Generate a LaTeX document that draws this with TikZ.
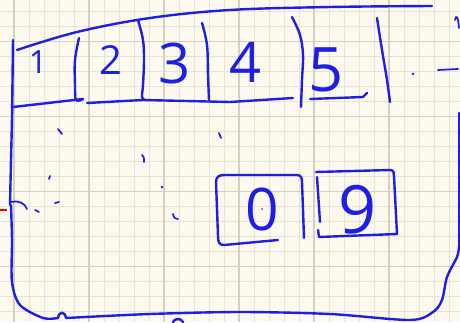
\documentclass[tikz,border=0pt]{standalone}
\usepackage{fontspec}
\setsansfont{Open Sans}
\usepackage{xcolor}
\definecolor{InkBlue}{HTML}{1E1EE6}
\definecolor{PaperCream}{HTML}{FCFAEE}
\definecolor{GridMinor}{HTML}{E6E2D4}
\definecolor{GridMajor}{HTML}{D5D0C0}
\usepackage{tikz}
\usetikzlibrary{positioning}

\begin{document}
\begin{tikzpicture}[x=0.75pt, y=-0.75pt, every node/.style={font=\sffamily}]
\tikzset{pen/.style={draw=InkBlue, line width=1.8pt, line cap=round, line join=round}}
\tikzset{thinpen/.style={draw=InkBlue, line width=1.3pt, line cap=round}}
\tikzset{digit/.style={text=InkBlue, inner sep=0pt}}
\tikzset{gridline/.style={draw=GridMinor, line width=0.6pt}}
\tikzset{gridmajor/.style={draw=GridMajor, line width=1.1pt}}
% paper and grid
\fill[PaperCream] (0,0) rectangle (460,322);
\useasboundingbox (0,0) rectangle (460,322);
\foreach \k in {0,...,29} {
  \pgfmathsetmacro\gx{14+15*\k}
  \draw[gridline] (\gx,0) -- (\gx,322);
}
\foreach \k in {0,...,21} {
  \pgfmathsetmacro\gy{11.7+15*\k}
  \draw[gridline] (0,\gy) -- (460,\gy);
}
\foreach \gx in {14,89,164,239,314,389} \draw[gridmajor] (\gx,0) -- (\gx,322);
\foreach \gy in {41.7,116.7,191.7,266.7} \draw[gridmajor] (0,\gy) -- (460,\gy);
% outer frame
\draw[pen] plot[smooth, tension=0.6] coordinates {(17,50) (77,32) (150,18) (230,10) (330,7) (432,6)};
\draw[pen] plot[smooth, tension=0.5] coordinates {(13,40) (12,117) (11,160) (10,205)};
\draw[thinpen] (11,202) .. controls (18,200) and (25,203) .. (27,209);
\draw[pen] plot[smooth, tension=0.5] coordinates {(11,205) (12,240) (12,282) (20,305) (43,318) (58,318)};
\draw[pen] (58,318) .. controls (59,311) and (65,311) .. (66,318);
\draw[pen] plot[smooth, tension=0.5] coordinates {(66,318) (150,314) (240,312) (330,314) (410,320) (433,312) (442,300) (447,277) (457,257) (459,247)};
\draw[pen] (459,247) -- (459,113);
\draw[pen] (173,322) .. controls (175,318) and (181,318) .. (183,322);
\draw[draw=red, line width=1.6pt] (0,210) -- (7,210);
% tab row
\draw[pen] (13,107) -- (83,99);
\draw[pen] (87,103) -- (143,100) -- (230,102) -- (293,98);
\draw[pen] (310,99) -- (363,97) -- (367,93);
\draw[pen] plot[smooth, tension=0.6] coordinates {(79,38) (75,60) (75,85) (76,100) (83,99)};
\draw[pen] plot[smooth, tension=0.6] coordinates {(138,20) (143,40) (144,60) (143,85) (142,97) (145,100)};
\draw[pen] plot[smooth, tension=0.6] coordinates {(202,23) (207,45) (208,75) (209,100)};
\draw[pen] plot[smooth, tension=0.6] coordinates {(292,17) (300,35) (303,55) (302,80) (301,107)};
\draw[pen] plot[smooth, tension=0.6] coordinates {(377,18) (382,50) (387,80) (390,102)};
\node[digit, font=\sffamily\fontsize{24}{24}\selectfont] (d1) at (38,62) {1};
\node[digit, font=\sffamily\fontsize{30}{30}\selectfont] (d2) at (111,60) {2};
\node[digit, font=\sffamily\fontsize{42}{42}\selectfont] (d3) at (175,63) {3};
\node[digit, font=\sffamily\fontsize{42}{42}\selectfont] (d4) at (246,62) {4};
\node[digit, font=\sffamily\fontsize{46}{46}\selectfont] (d5) at (326,70) {5};
% trailing marks
\fill[InkBlue] (413,74) circle (1.3);
\draw[thinpen] (438,70) -- (458,69);
\draw[thinpen] (455,20) .. controls (456,15) and (458,15) .. (459,28);
% loose ticks
\draw[thinpen] (58,129) -- (62,134);
\draw[thinpen] (219,133) -- (221,138);
\draw[thinpen] (142,155) .. controls (144,157) .. (144,162);
\draw[thinpen] (50,176) -- (49,179);
\fill[InkBlue] (162,187) circle (1.3);
\draw[thinpen] (55,203) -- (59,202);
\draw[thinpen] (35,210) -- (39,212);
\draw[thinpen] (173,214) .. controls (174,218) .. (178,219);
% key boxes
\draw[pen] (278,240) -- (224,245) .. controls (219,245) and (218,242) .. (218,236)
  -- (216,182) .. controls (216,177) and (219,175) .. (224,175) -- (297,175)
  .. controls (301,175) and (302,178) .. (302,182) -- (304,238);
\node[digit, font=\sffamily\fontsize{44}{44}\selectfont] (d0) at (262,210) {0};
\fill[InkBlue] (262,209) circle (0.9);
\draw[pen] (316,172) -- (390,170) .. controls (394,170) and (394,173) .. (394,176) -- (397,234) -- (319,237);
\draw[pen] (317,177) -- (320,222);
\draw[pen] (318,230) -- (319,237);
\node[digit, font=\sffamily\fontsize{50}{50}\selectfont] (d9) at (358,210) {9};
\end{tikzpicture}
\end{document}
